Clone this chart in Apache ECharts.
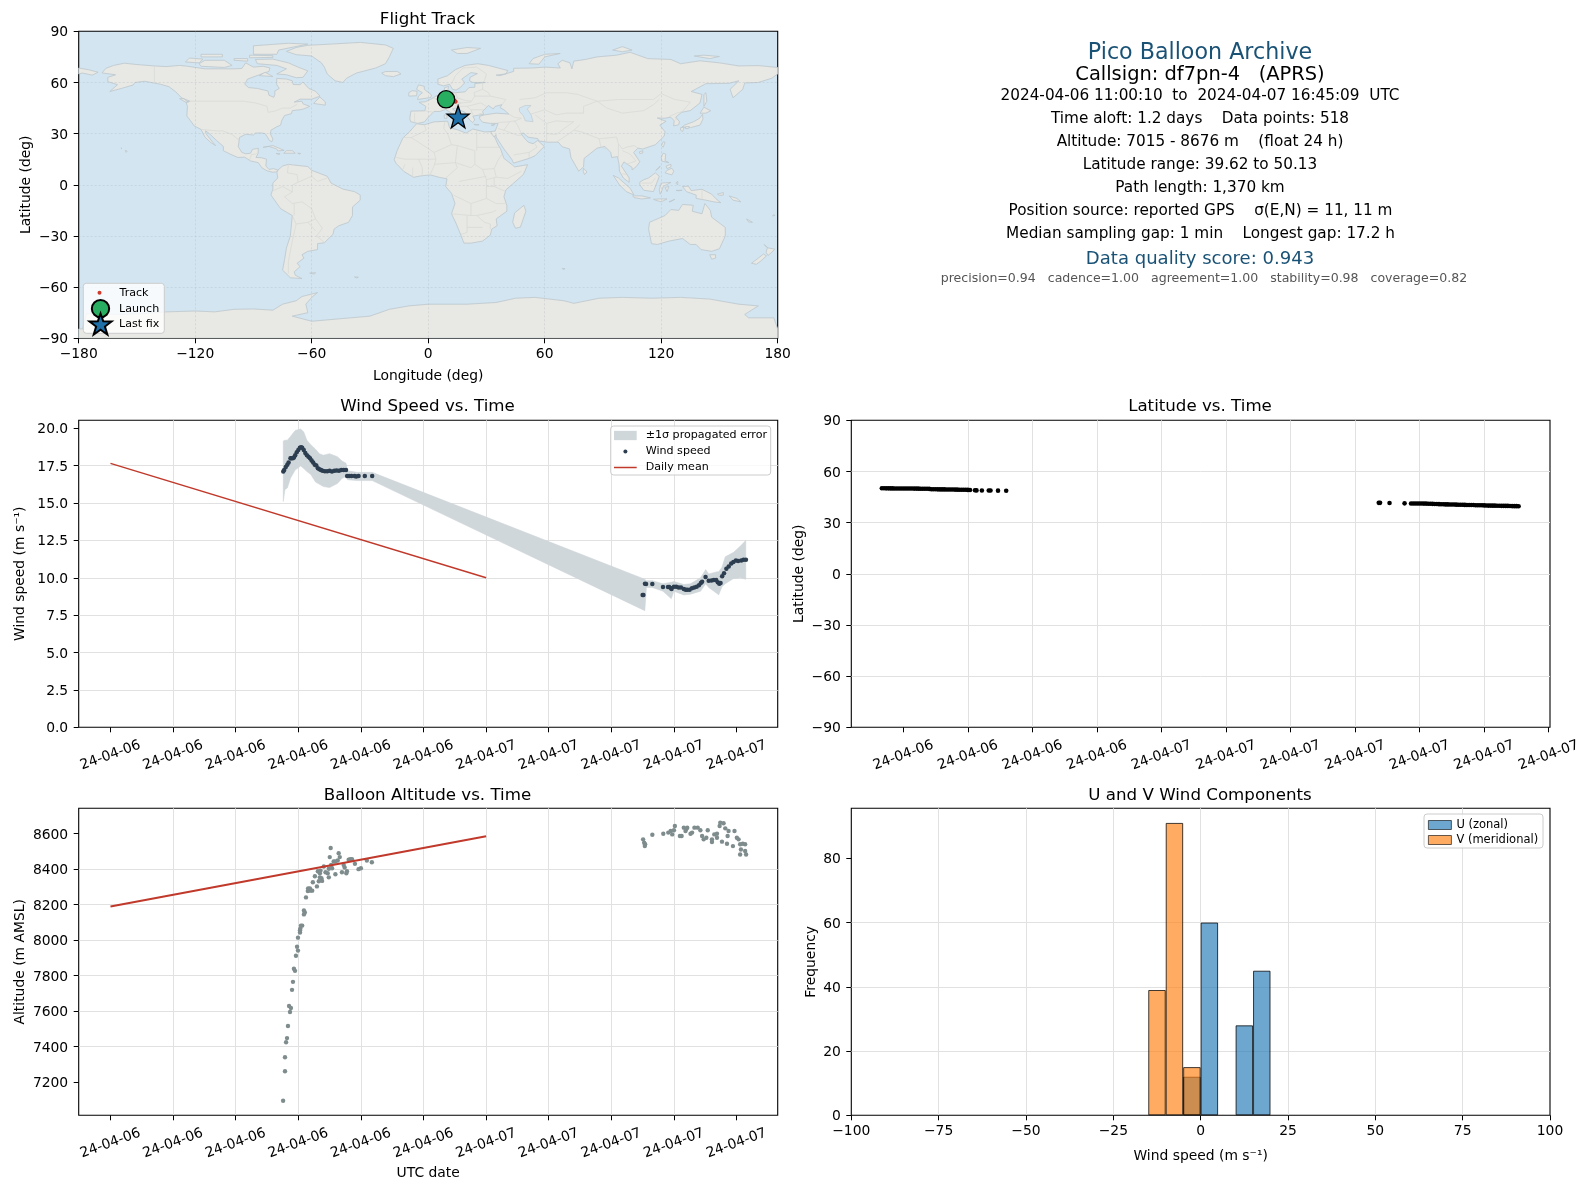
<!DOCTYPE html>
<html><head><meta charset="utf-8">
<style>html,body{margin:0;padding:0;background:#fff}#c{width:1589px;height:1189px}</style>
<script src="https://cdn.jsdelivr.net/npm/echarts@6/dist/echarts.min.js"></script>
</head><body><div id="c"></div>
<script>
// ---------- DATA ----------
const landShapes = [
 [[-168,65.6],[-166,68.3],[-162,70],[-156.5,71.3],[-150,70.5],[-141,69.7],[-135,69.3],[-128,70],[-124,69.5],[-115,68],[-108,68],[-100,68],[-96,68.2],[-94,71.5],[-90,69],[-85,69.5],[-81.5,68.5],[-82,66.5],[-87,64.5],[-93,62],[-94.5,59],[-92.5,57],[-88,56.5],[-82.5,55],[-82,52.5],[-79.5,51.3],[-79,53],[-79,55],[-76.7,56.5],[-78,58.7],[-78,62.4],[-73,62],[-70,61],[-69.5,58.8],[-66,58.7],[-64.5,60.3],[-61.5,56.5],[-58,54.8],[-55.7,52],[-60,50.2],[-66,50.2],[-69,48.5],[-65,49],[-64.5,47.5],[-61,46],[-64,44.5],[-66,44],[-70,43.5],[-70.5,41.7],[-74,40.6],[-75.5,37.5],[-76,35],[-78,34],[-81,32],[-81.3,30],[-80,26.8],[-80.5,25.2],[-81.8,26],[-82.8,28],[-84,30],[-86,30.4],[-89,30.3],[-90,29.2],[-94,29.6],[-97.2,27.8],[-97.5,25],[-97.8,22.3],[-96,19],[-94,18.2],[-91.5,18.5],[-90.5,20.8],[-87.5,21.4],[-87.6,18.5],[-88.7,16],[-86,15.9],[-83.3,15],[-83.6,11],[-82,9],[-79.7,9.5],[-77.4,8.6],[-78.2,7.5],[-80.2,7.4],[-83,8.2],[-85.7,10],[-87.5,13],[-91.5,14],[-94.5,16.2],[-98,16],[-102,18],[-105.5,20],[-105.5,22.5],[-109,26],[-112.7,30],[-114.7,31.7],[-114.5,30],[-111,25],[-109.5,23],[-112,24.8],[-115,28],[-117,32.5],[-120.5,34.5],[-122.5,37.7],[-124.3,40.3],[-124,46],[-124.7,48.4],[-122.7,49],[-127,51],[-130,54.5],[-133.5,57.5],[-138,59],[-146,60.7],[-151,60],[-152,58.5],[-158,56.5],[-164,54.7],[-160,58.7],[-165,60.5],[-165,63],[-161,64.5],[-168,65.6]],
 [[-73,78.2],[-68,80.5],[-62,81.8],[-50,82.5],[-35,83.5],[-22,82],[-18,80],[-20,75],[-22,71],[-27,68.5],[-37,65.5],[-42,62.5],[-44,60],[-48,61],[-52,65],[-53.5,69],[-55,71.5],[-60,75.5],[-68,76.3]],
 [[-80,73.7],[-72,71.5],[-67,69],[-62,66.8],[-64.5,63],[-68,62.8],[-73,64.5],[-78,65],[-73,68],[-78,70],[-88,71],[-89,73.5]],
 [[-117,69.5],[-105,68.8],[-101,70],[-105,73],[-115,73],[-118,71]],
 [[-90,76.5],[-78,76.5],[-77,79],[-62,82.5],[-72,83],[-90,81.5]],
 [[-92,74.5],[-80,74.7],[-80,75.7],[-92,76]],
 [[-125,72],[-118,71.5],[-116,73.7],[-123,74.3]],
 [[-117,75],[-106,75],[-106,76.5],[-117,76.5]],
 [[-100,73],[-93,72.5],[-93,74],[-100,74]],
 [[-59,47.7],[-53,46.7],[-53,48.6],[-55.8,51.5]],
 [[-87,64],[-80,63.5],[-84,66]],
 [[-128,50.5],[-125,48.5],[-123.5,48.5],[-126,50.5]],
 [[-77.4,8.6],[-75,11],[-72,12],[-70,11.7],[-62,10.7],[-60,8.5],[-52,5],[-50,1],[-44,-2.5],[-38,-4],[-35,-6],[-35,-9],[-39,-13],[-39,-18],[-41,-22],[-46,-24],[-48.5,-26],[-49,-29],[-53.5,-34],[-57,-34.5],[-57,-38],[-62,-39],[-65,-41],[-64,-43],[-67.5,-46],[-66,-48],[-69,-51],[-68.5,-53],[-65,-55],[-71,-54.5],[-75,-50],[-74,-44],[-73,-37],[-71,-30],[-70,-18],[-76,-14],[-81,-6],[-80,-2.5],[-80,1],[-77.5,4],[-77.9,7.2]],
 [[-6,35.8],[-2,35.2],[3,36.9],[10,37.3],[11,33.5],[15,32.3],[19.5,30.3],[23,32.7],[29,31],[32.5,31.2],[34.3,27.8],[36,23.5],[37.3,21],[39,15.5],[43.3,11.7],[44.5,10.5],[51.2,11.8],[49,6],[44,1],[40,-3],[39,-7],[40.5,-12],[40.5,-15.5],[35,-20],[35.5,-24],[32.7,-26],[32,-29.5],[28,-33],[22,-34.2],[18.4,-34.2],[17,-30],[14.5,-23],[12,-17],[13.8,-11],[12,-5],[9,-1],[9.7,3.5],[6,4.3],[1,5.8],[-4,5.2],[-7.5,4.4],[-12.5,7.8],[-16.5,12.5],[-17.5,14.7],[-16,20],[-13,27.5],[-9.7,31]],
 [[-9,37],[-9.5,38.7],[-8.9,43.2],[-1.7,43.4],[-1.2,46],[-4.7,48.4],[-1.5,48.7],[1.5,50.3],[4,52],[8,53.7],[8.5,57],[10.5,57.7],[10,54.8],[14,54],[19,54.5],[21,57],[24,57.2],[24,59.3],[29.5,60],[23,60],[21.3,61],[21.5,63],[25.3,65.2],[22,65.8],[17.3,62],[18.8,59.8],[16.5,57],[14.3,55.5],[12.5,56],[11,59],[8,58],[5,59],[5,62],[10,64],[14,67.5],[19,70],[25.5,71],[31,70],[41,67],[40,65],[35,64.3],[37,64],[44,66.5],[44,68.3],[54,68.5],[60,69],[68,68.5],[66.8,71],[69,73],[73,71.5],[74,68],[75,72.5],[81,73.5],[87,75],[97,76],[104,77.7],[113,74],[125,73.5],[130,71],[140,72.7],[150,71.5],[160,69.7],[170,69.9],[180,68.8],[180,65],[177,62.5],[170,60],[163,59.7],[162,56],[157,51],[155.5,56],[160,61],[155,59.5],[143,59.3],[135.5,54.7],[141,53],[140,48],[135,43.5],[130.5,42.5],[127.5,39.7],[129.4,37],[129,35.2],[126.4,34.5],[126.7,37.5],[125,39.6],[121.5,39],[118,39.2],[122.5,37.2],[119.3,35],[122,31],[121.5,28.5],[117,23.5],[110.5,21],[108,21.5],[105.8,19],[109,13.5],[107,10.5],[105,8.7],[105,10.2],[100.8,13.4],[99.5,11],[103.5,4],[103.5,1.4],[100.5,4],[98.5,8],[98.3,12],[97.5,16.5],[94.5,16],[94,19],[91,22.5],[87,21.5],[80.3,15.5],[80,10.5],[77.5,8],[73.5,16],[72.8,21],[69,22.3],[67,25],[61.5,25],[57,25.7],[56.4,27.1],[51.5,27.9],[49,30.3],[47.8,30],[50,26.7],[51.5,25],[54,24.1],[56.4,26],[59.8,22.5],[55,17],[52,15.5],[44,12.7],[43,15],[39,21],[35,28],[34.9,29.5],[34,28],[32.6,29.9],[32.3,31.2],[34.5,31.5],[36,36],[32,36],[28,36.7],[26.5,38.7],[26.5,40.2],[29,41],[35,42],[41.5,41.5],[39,44],[37,45.3],[38,47],[34.5,46],[33.5,44.5],[31,46.5],[28,43],[28.5,41.3],[26,40.8],[23,40.3],[24,38],[22.8,36.5],[21,38.5],[19.5,41],[19,42.5],[14,45],[12.5,44.5],[16,41.5],[18.4,40],[16,38],[15.8,40],[12,42],[9,44.2],[6,43],[3,43],[0,39.5],[-2,36.8],[-5.5,36]],
 [[-180,68.5],[-175,67.5],[-170,66],[-173,64.3],[-178,65.5],[-180,65]],
 [[-5.5,50],[1.3,51.2],[1.7,52.7],[-2,56],[-2,57.7],[-5,58.6],[-6,56],[-3,54],[-5,52]],
 [[-10,52],[-6,52.2],[-5.7,54.8],[-8.2,55.2],[-10,54]],
 [[-24,65.5],[-22,64],[-18,63.4],[-14,65],[-16,66.5],[-22,66.4]],
 [[12,79],[20,80.5],[27,80],[20,77],[15,77]],
 [[52,71],[57,70.7],[60,75],[68,77],[60,76.5],[54,74]],
 [[95,79],[100,78],[105,79],[100,81]],
 [[137,75.5],[145,74],[150,75.2],[142,76]],
 [[12.5,38],[15.5,38.2],[15,36.7]],[[8.3,39],[9.7,39],[9.6,41],[8.3,41]],[[23.5,35.5],[26.2,35.2],[24.5,35]],[[32.5,35],[34.5,35.6],[33.5,34.6]],
 [[130.8,34],[135,33.5],[140,35],[141.5,38.5],[141.3,41.4],[139.8,39],[136.7,37],[132,35]],
 [[140,42],[143,42],[145.5,43.4],[142,45.5]],[[130,33.5],[131.8,33.7],[131,31.2],[130,32]],[[132.5,34],[134.5,34.2],[134,33],[132.5,33]],
 [[142,46],[143.5,49],[143,54],[142,53]],
 [[120.2,23],[121,22],[122,25],[121,25.2]],[[108.7,19.3],[110.5,20],[110.5,18.7],[109,18.3]],
 [[120,16],[121,18.5],[122.3,18],[122,14],[124,13],[120.5,13.8]],[[122,7],[125.5,5.8],[126.5,8],[125.5,9.7],[123,8.5]],[[122.5,11],[125,12],[125,10.5],[123,9.5]],[[117.2,8.4],[119.5,11],[119,10]],
 [[109,1.5],[111,3],[113.5,4],[117,7],[119,5],[117.7,1],[116,-4],[111,-3.2],[109,0]],
 [[95.3,5.5],[98,4],[104,-2],[106,-6],[102,-4],[98.5,0]],
 [[105.3,-6.5],[110,-6.5],[114.5,-7.7],[110,-8.3],[106,-7.5]],
 [[119.5,-5.5],[120.5,-3],[121,-1],[125,1.4],[120,1],[119,-3]],[[123,-4],[122,-1.5],[124,-1]],
 [[116,-8.5],[119,-8.3],[123,-8.3],[120,-10],[117,-9]],[[124,-10],[127,-8.5],[125,-9.8]],[[127.5,1],[128.5,2],[128.5,0]],[[127.7,-3.3],[130.8,-3.2],[129,-3.5]],
 [[131,-1],[134,-0.8],[135.5,-3.4],[141,-2.6],[146,-5.5],[148,-8],[150.7,-10.5],[147,-10],[143,-9],[138,-8],[138,-6],[133,-4]],
 [[149,-5.5],[152,-4.5],[152,-6],[150,-6.2]],[[155,-6.5],[159,-8],[161,-10],[157,-9]],
 [[114,-22],[113.5,-26],[115,-34.5],[118,-35],[124,-33],[131,-31.5],[135,-35],[138,-35],[140.5,-38],[146,-39],[150,-37.5],[153,-30],[153,-25],[149.5,-22],[146,-19],[145.3,-15],[142.5,-11],[141,-17],[136,-15.5],[136.5,-12],[131,-11.5],[129,-15],[125,-14.5],[122,-18],[116,-21]],
 [[145,-41],[148,-41],[148,-43],[146,-43.6]],
 [[173,-35],[175,-37],[178.5,-37.7],[177,-39.5],[175,-41.5],[174,-39.5],[174.7,-37]],
 [[172.7,-40.6],[174.2,-41.7],[171,-45],[169,-46.6],[166.5,-46],[170,-43]],
 [[49.3,-12],[50.3,-15.5],[47.5,-24.8],[45,-25.5],[43.5,-22],[44.5,-16.5]],
 [[80,9.7],[81.8,7.5],[80.5,6],[79.8,8]],
 [[-85,22],[-80,23],[-74.2,20.2],[-77.5,19.9],[-78,21],[-82,22.5]],
 [[-74.4,18.5],[-68.5,18.5],[-70,20],[-73,20]],[[-78.3,18.4],[-76.3,18.2],[-77,17.8]],[[-67.2,18.5],[-65.7,18.4],[-66,18]],
 [[-61,-51.8],[-58,-51.5],[-58.5,-52.3]],[[-38,-54],[-36,-54.2],[-37,-54.6]],[[69,-49],[70.5,-49.2],[69.5,-49.7]],
 [[164,-20],[167,-22],[165,-21.8]],[[-156,20.2],[-155,19.7],[-155.6,19]],[[-158.2,21.6],[-157.7,21.4],[-158,21.2]],[[178,-17.5],[178.6,-18],[177.3,-18.2]],
 [[-180,-84.5],[-178,-84.5],[-176,-75.5],[-160,-76],[-146,-75.5],[-135,-74.5],[-120,-74],[-110,-74.5],[-100,-73],[-90,-72.8],[-80,-73.5],[-75,-70],[-68,-68],[-65,-65.5],[-57,-63.2],[-60,-66],[-63,-70],[-62,-75],[-70,-77],[-60,-80],[-40,-78],[-30,-77],[-20,-73],[-10,-71],[0,-70],[20,-70],[35,-69],[45,-66.5],[55,-66],[70,-68],[75,-69.5],[88,-66.5],[100,-66],[115,-66.5],[130,-66],[145,-67],[160,-70],[170,-71],[163,-76],[165,-78],[178,-78],[180,-84.5],[180,-90],[-180,-90]]
];
const waterShapes = [
 [[47,45],[50,46.5],[53,46.5],[51,44.5],[53,41],[54,37],[50,37.5],[49,40.5],[47,43]]
];
const borderLines = [
 [[-141,69.7],[-141,60.3]],
 [[-123,49],[-95,49],[-89,48],[-83,46],[-82.5,42.5],[-79,43.2],[-75,45],[-71,45],[-67.5,47.2]],
 [[-117,32.5],[-108,31.5],[-106,31.7],[-101,29.5],[-97.3,26]],
 [[-92,14.6],[-91,17.8],[-89,17.9],[-88.3,18.4]],
 [[-72,12],[-72.5,7],[-67.5,6],[-67,1.5],[-70,-0.2],[-70,-4.2],[-74,-7],[-70,-11],[-65,-10],[-60,-14],[-58,-20],[-54.5,-25.5],[-57.5,-30],[-53.5,-33.7]],
 [[-60,8.5],[-60,5],[-67,1.5]],[[-52,4],[-57,2],[-60,5]],
 [[-80,-3.5],[-75,-1],[-70,-4.2]],[[-70,-18],[-68,-23],[-70,-33],[-72,-45],[-72,-52]],[[-69,-11],[-69,-18]],[[-62,-22],[-58,-20]],[[-68,-23],[-62,-22],[-58,-27]],
 [[-8.7,27.7],[-13,27.7]],[[-2,35],[-1,32],[-8.7,27.7],[-5,25],[3,19],[12,23.5],[10,30],[8,33],[8.5,37]],[[3,19],[4,15],[-5,15],[-12,15],[-16.5,16]],[[12,23.5],[15,23],[24,20],[24,12],[28,9],[34,9.5],[36,14.5],[38,18]],[[25,32],[25,20]],[[25,22],[37,22]],[[15,23],[14,13],[15,10],[9,4]],[[4,15],[3,11],[1,6]],[[-5,15],[-3,10],[-3,5]],[[-8,10],[-8,4.5]],[[-12,12],[-13,9]],[[14,13],[3,12]],[[28,9],[30,3],[30,-1],[30,-8],[22,-11],[13,-6]],[[30,3],[35,4.5],[41,3.7],[48,8]],[[34,9.5],[35,4.5]],[[34,4],[34,-1],[40,-4]],[[30,-1],[34,-1]],[[30,-8],[35,-11],[40.5,-11]],[[22,-11],[22,-18],[12,-17]],[[22,-18],[25,-18],[33,-16],[35,-15]],[[20,-18],[20,-28],[17,-29]],[[25,-18],[29,-22],[32,-23],[32,-26]],[[20,-25],[28,-25]],[[16,2],[30,5]],[[14,13],[22,10],[24,12]],
 [[-1.7,43.4],[3,42.5]],[[-7,37],[-7,42]],[[2.5,51],[7,49],[8,47.5],[7,44]],[[7,53],[6.5,50],[8,49]],[[14,54],[15,51],[13,48.5],[10,47.5],[8,47.5]],[[13,48.5],[17,48],[22,48.5],[24,52],[23.5,54]],[[15,51],[19,49.5],[22,49]],[[14,46.5],[17,48]],[[13.7,46],[20,46],[22,44],[23,41]],[[20,46],[27,48],[30,46]],[[22,44],[28.5,44]],[[24,52],[32,52],[40,50],[38,47]],[[23.5,54],[28,56],[28,59.5]],[[32,52],[31,54],[28,56]],[[12,59],[14,64],[18,68.5],[25,69]],[[25,69],[30,65],[29,61],[28,60]],[[26,41.5],[28,42]],[[41.5,41.5],[44.5,39.5],[48,39]],[[36,36.5],[42,37],[44.5,37.5],[46,35],[48,30]],[[36,33],[39,32],[42,37]],[[39,32],[46,29],[48,29]],[[44,37],[48,39]],[[52,15.5],[52,19],[56,22],[55,24]],[[44,17.5],[52,19]],[[61,25],[61,30],[61,36],[66,37.5],[71,37],[75,37]],[[61,30],[66,29.5],[70,33],[75,37]],[[66,25],[70,28],[75,32],[78,35]],[[75,32],[79,31],[88,27],[97,28]],[[88,27],[89,22],[92,21]],[[97,28],[98,24],[100,21],[102,22],[106,23],[108,21.5]],[[98,24],[98,16]],[[100,20],[104,18],[107,14],[102,12]],[[100,6.5],[102,6]],
 [[47,50],[55,51],[61,54],[71,54],[77,53],[87,49]],[[53,41.5],[60,44],[66,41],[71,42],[80,42]],[[55,41],[61,36]],[[80,42],[80,46],[87,49]],[[87,49],[92,45],[100,42],[111,43.5],[116,47],[119,50]],[[87,49],[98,50],[107,50],[116,50],[120,53.5],[127,50],[135,48.5],[131,43]],[[124,40],[128,42],[131,43]],[[117,4],[115,1],[110,1]],[[141,-3],[141,-9]],[[127,39],[128,38]]
];
const launch = [9.2, 50.13];
const lastFix = [15.4, 39.9];
const trackLon = [9.2,10.4,11.2,12.0,12.8,13.4,13.9,14.1,14.9,15.1,15.3,15.4,15.4,15.4];
const trackLat = [50.13,50.05,50.0,49.9,49.7,49.4,49.0,48.7,41.6,41.2,40.8,40.4,40.0,39.62];

const infoLines = [
 ['Pico Balloon Archive', 53, 22.2, '#1a5276', 1200],
 ['Callsign: df7pn-4   (APRS)', 75, 19.44, '#000', 1200],
 ['2024-04-06 11:00:10  to  2024-04-07 16:45:09  UTC', 96, 15.28, '#000', 1200],
 ['Time aloft: 1.2 days    Data points: 518', 119, 15.28, '#000', 1200],
 ['Altitude: 7015 - 8676 m    (float 24 h)', 142, 15.28, '#000', 1200],
 ['Latitude range: 39.62 to 50.13', 165, 15.28, '#000', 1200],
 ['Path length: 1,370 km', 188, 15.28, '#000', 1200],
 ['Position source: reported GPS    σ(E,N) = 11, 11 m', 211, 15.28, '#000', 1200.5],
 ['Median sampling gap: 1 min    Longest gap: 17.2 h', 234, 15.28, '#000', 1200.5],
 ['Data quality score: 0.943', 259, 18.06, '#1a5276', 1200],
 ['precision=0.94   cadence=1.00   agreement=1.00   stability=0.98   coverage=0.82', 279, 12.55, '#555', 1204]
];

// time values: hours after 2024-04-06 00:00 UTC
const windHours = [11.04,11.1,11.2,11.3,11.38,11.5,11.55,11.65,11.72,11.8,11.9,12.0,12.1,12.18,12.25,12.35,12.45,12.55,12.65,12.75,12.85,12.95,13.05,13.15,13.25,13.35,13.45,13.55,13.7,13.85,14.0,14.15,14.3,14.45,14.6,14.75,14.9,15.05,15.12,15.25,15.4,15.6,15.7,15.85,16.25,16.72,
 34.0,34.05,34.15,34.22,34.62,35.3,35.62,35.7,35.82,35.85,36.0,36.15,36.3,36.45,36.63,36.75,36.85,37.0,37.15,37.3,37.45,37.6,37.72,37.8,38.02,38.22,38.4,38.55,38.7,38.8,38.9,38.98,39.08,39.2,39.35,39.5,39.66,39.8,39.96,40.1,40.3,40.45,40.6];
const windSpeed = [17.1,17.2,17.4,17.55,17.7,18.0,18.0,18.0,18.05,18.2,18.4,18.55,18.7,18.73,18.7,18.55,18.35,18.2,18.1,18.0,17.85,17.7,17.55,17.5,17.33,17.25,17.2,17.15,17.13,17.13,17.15,17.1,17.15,17.18,17.15,17.2,17.2,17.2,16.8,16.8,16.8,16.8,16.78,16.8,16.8,16.8,
 8.85,8.85,9.6,9.58,9.58,9.38,9.38,9.38,9.3,9.25,9.4,9.4,9.35,9.35,9.25,9.2,9.2,9.2,9.3,9.35,9.4,9.5,9.65,9.73,10.05,9.8,9.82,9.85,9.85,9.7,9.6,9.65,10.1,10.3,10.6,10.75,10.95,11.05,11.15,11.12,11.15,11.2,11.2];
const bandHours = [11.04,11.15,11.3,11.5,11.8,12.15,12.35,12.55,12.8,13.1,13.35,13.6,14.0,14.5,14.8,15.05,15.15,15.75,16.72,34.14,34.24,34.62,35.3,35.83,36.0,36.63,37.06,37.7,38.03,38.22,38.75,38.86,39.07,39.28,39.81,40.23,40.59];
const bandLow = [15.1,15.9,16.0,16.65,17.2,17.48,17.3,17.1,16.9,16.4,16.25,16.1,16.03,16.3,16.65,16.77,16.55,16.5,16.5,7.8,9.35,9.35,9.1,8.6,9.1,8.85,8.9,9.1,9.6,9.35,8.95,8.85,9.4,9.6,9.95,10.0,9.9];
const bandHigh = [19.15,19.2,19.2,19.45,19.85,19.95,19.75,19.2,18.9,18.6,18.3,18.2,18.3,18.1,17.8,17.66,17.15,17.05,17.05,9.9,9.8,9.8,9.6,9.7,9.75,9.55,9.6,10.0,10.55,10.25,10.4,10.4,10.7,11.4,11.7,12.1,12.5];
const meanHours = [0,24];
const meanWind = [17.65,10.0];
const meanAlt = [8190,8585];

const latHours = [11.0,11.1,11.2,11.3,11.4,11.5,11.6,11.7,11.8,11.9,12.0,12.1,12.2,12.3,12.4,12.5,12.6,12.7,12.8,12.9,13.0,13.1,13.2,13.3,13.4,13.5,13.6,13.7,13.8,13.9,14.0,14.1,14.2,14.3,14.4,14.5,14.6,14.7,14.8,14.9,15.0,15.1,15.33,15.4,15.65,15.97,16.05,16.4,16.78,
 34.1,34.16,34.6,35.3,35.6,35.7,35.8,35.9,36.0,36.1,36.2,36.3,36.4,36.5,36.6,36.7,36.8,36.9,37.0,37.1,37.2,37.3,37.4,37.5,37.6,37.7,37.8,37.9,38.0,38.1,38.2,38.3,38.4,38.5,38.6,38.7,38.8,38.9,39.0,39.1,39.2,39.3,39.4,39.5,39.6,39.7,39.8,39.9,40.0,40.1,40.2,40.3,40.4,40.5,40.6];
const latDeg = [50.13,50.12,50.1,50.1,50.08,50.08,50.05,50.05,50.04,50.02,50.0,50.0,50.02,50.0,49.98,49.95,49.95,49.92,49.9,49.9,49.88,49.85,49.82,49.6,49.55,49.55,49.52,49.5,49.5,49.48,49.45,49.42,49.4,49.4,49.38,49.35,49.3,49.3,49.28,49.25,49.2,49.15,48.95,48.9,48.85,48.8,48.8,48.75,48.7,
 41.6,41.6,41.5,41.3,41.25,41.25,41.2,41.2,41.2,41.2,41.15,41.15,41.1,41.1,41.0,40.95,40.9,40.85,40.8,40.75,40.7,40.7,40.65,40.6,40.6,40.55,40.5,40.45,40.45,40.4,40.35,40.35,40.3,40.3,40.2,40.2,40.15,40.15,40.1,40.05,40.0,40.0,39.95,39.95,39.9,39.9,39.85,39.85,39.8,39.8,39.75,39.7,39.65,39.65,39.62];

const altHours = [11.03,11.15,11.15,11.22,11.28,11.34,11.47,11.41,11.53,11.6,11.66,11.79,11.72,11.85,11.98,11.92,11.98,12.11,12.11,12.13,12.17,12.25,12.36,12.42,12.36,12.49,12.61,12.68,12.63,12.74,12.78,12.89,13.19,12.93,13.06,13.31,13.52,13.48,13.38,13.95,13.25,13.42,13.38,13.74,13.88,13.63,13.95,14.16,14.1,14.37,14.79,15.07,15.11,14.9,14.96,14.26,14.37,14.52,14.65,14.01,14.07,14.58,15.22,15.43,15.32,15.62,15.85,16.0,16.38,16.7,
 34.03,34.1,34.16,34.14,34.62,35.32,35.64,35.79,35.89,36.06,36.0,36.38,36.49,36.63,36.78,36.85,36.74,37.06,37.16,37.31,37.52,37.69,37.8,37.9,38.07,38.16,38.43,38.43,38.58,38.75,38.75,38.92,38.96,39.17,39.28,39.49,39.43,39.87,39.07,39.39,39.77,40.02,40.13,40.23,40.4,40.55,40.28,40.55,40.61,40.23];
const altMetres = [7095,7261,7340,7425,7448,7516,7595,7629,7618,7720,7765,7827,7839,7912,7941,7963,8014,8043,8056,8065,8082,8082,8145,8156,8167,8241,8277,8283,8292,8292,8279,8279,8303,8326,8360,8332,8334,8349,8354,8354,8388,8392,8377,8383,8377,8415,8402,8405,8424,8371,8383,8377,8388,8424,8409,8443,8443,8449,8468,8468,8519,8490,8453,8456,8456,8430,8400,8405,8449,8439,
 8568,8549,8540,8530,8594,8600,8606,8615,8596,8643,8619,8587,8587,8634,8625,8634,8615,8600,8606,8634,8634,8619,8587,8568,8577,8619,8568,8553,8596,8600,8577,8643,8662,8659,8630,8615,8587,8615,8555,8543,8530,8577,8568,8540,8543,8540,8511,8502,8483,8483];

const uCentres = [-2.5,2.5,12.5,17.5];
const uCounts = [12,60,28,45];
const vCentres = [-12.5,-7.5,-2.5];
const vCounts = [39,91,15];

const windTickHours = [0,4,8,12,16,20,24,28,32,36,40];
const latTickHours = [12,15,18,21,24,27,30,33,36,39,42];
const windYTicks = [0,2.5,5,7.5,10,12.5,15,17.5,20];
const altYTicks = [7200,7400,7600,7800,8000,8200,8400,8600];
const latYTicks = [-90,-60,-30,0,30,60,90];
const histYTicks = [0,20,40,60,80];

// ---------- LAYOUT / HELPERS ----------
const FONT = 'DejaVu Sans';
const T0 = Date.UTC(2024,3,6);
const ms = h => T0 + h*3600e3;
const zip = (a,b) => a.map((v,i)=>[v,b[i]]);
const tzip = (a,b) => a.map((v,i)=>[ms(v),b[i]]);
const minus = v => String(v).replace('-','\u2212');
const G = {
 map:{left:78.7,top:31.3,width:699,height:307},
 wind:{left:78.7,top:420.3,width:699,height:307},
 lat:{left:851.3,top:420.3,width:698.7,height:307},
 alt:{left:78.7,top:808.3,width:699,height:307},
 hist:{left:851.3,top:808.3,width:698.7,height:307}
};
const STAR = 'path://M0,-10 L2.35,-3.24 L9.51,-3.09 L3.8,1.24 L5.88,8.09 L0,4 L-5.88,8.09 L-3.8,1.24 L-9.51,-3.09 L-2.35,-3.24 Z';
const gridLine = {show:true,showMinLine:false,showMaxLine:false,lineStyle:{color:'#e1e1e1',width:1}};
function grid(g,bg){return {left:g.left,top:g.top,width:g.width,height:g.height,show:true,backgroundColor:bg||'#fff',borderColor:'#000',borderWidth:1.1,containLabel:false};}
function baseAxis(o){
 return Object.assign({axisLine:{show:false,onZero:false},axisTick:{show:true,length:5,lineStyle:{color:'#000',width:1}},
  axisLabel:{color:'#000',fontFamily:FONT,fontSize:13.89,margin:9,hideOverlap:false,showMinLabel:true,showMaxLabel:true},
  splitLine:gridLine,nameTextStyle:{color:'#000',fontFamily:FONT,fontSize:13.89},nameLocation:'middle',minorTick:{show:false}},o);
}
function timeAxis(i,min,max,ticks,name){
 const vals=ticks.map(ms);
 const a=baseAxis({type:'value',scale:true,gridIndex:i,min:ms(min),max:ms(max),name:name||'',nameGap:51});
 a.axisTick.customValues=vals;
 a.axisLabel=Object.assign({},a.axisLabel,{customValues:vals,rotate:20,align:'center',verticalAlign:'middle',margin:28,
   formatter:v=>new Date(v).toISOString().slice(2,10)});
 return a;
}
function valAxis(i,min,max,ticks,name,gap,fmt,margin,nudge){
 const a=baseAxis({type:'value',scale:true,gridIndex:i,min,max,name,nameGap:gap});
 a.axisTick.customValues=ticks;
 const f=fmt||minus;
 a.axisLabel=Object.assign({},a.axisLabel,{customValues:ticks,margin:margin||10.5,
   formatter:nudge?(v=>'{t|'+f(v)+'}'):f,
   rich:nudge?{t:{fontFamily:FONT,fontSize:13.89,color:'#000',padding:[3,0,0,0]}}:undefined});
 return a;
}
const mapGridLine={show:true,showMinLine:false,showMaxLine:false,lineStyle:{color:'#9fb0ba',width:.7,type:[2,2],opacity:.4}};
const xAxes=[
 Object.assign(valAxis(0,-180,180,[-180,-120,-60,0,60,120,180],'Longitude (deg)',31,null,9.5,false),{splitLine:mapGridLine,z:3}),
 timeAxis(1,-2.03,42.63,windTickHours),
 timeAxis(2,9.58,42.06,latTickHours),
 timeAxis(3,-2.03,42.63,windTickHours,'UTC date'),
 valAxis(4,-100,100,[-100,-75,-50,-25,0,25,50,75,100],'Wind speed (m s\u207B\u00B9)',34,null,9.5,false)
];
const yAxes=[
 Object.assign(valAxis(0,-90,90,latYTicks,'Latitude (deg)',45,null,10.5,true),{splitLine:mapGridLine,z:3}),
 valAxis(1,0,20.53,windYTicks,'Wind speed (m s\u207B\u00B9)',51,v=>v.toFixed(1),10.5,true),
 valAxis(2,-90,90,latYTicks,'Latitude (deg)',45,null,10.5,true),
 valAxis(3,7013,8743,altYTicks,'Altitude (m AMSL)',51,null,10.5,true),
 valAxis(4,0,95.55,histYTicks,'Frequency',33,null,10.5,true)
];
function polyShapes(shapes,style,closed){
 return {type:'custom',xAxisIndex:0,yAxisIndex:0,coordinateSystem:'cartesian2d',silent:true,clip:true,z:1,
  data:shapes.map((_,i)=>[0,0,i]),encode:{x:0,y:1},
  renderItem:(p,api)=>{
   const pts=shapes[api.value(2)].map(c=>api.coord(c));
   return {type:closed?'polygon':'polyline',shape:{points:pts},style:Object.assign({},style)};
  }};
}
const bandSeries={name:'\u00B11\u03C3 propagated error',type:'custom',xAxisIndex:1,yAxisIndex:1,coordinateSystem:'cartesian2d',silent:true,z:1,
 itemStyle:{color:'#d0d7da'},clip:true,
 data:bandHours.map((h,i)=>[ms(h),bandLow[i],bandHigh[i]]),encode:{x:0,y:[1,2]},
 renderItem:(p,api)=>{
  if(p.dataIndex!==0) return null;
  const up=[],lo=[];
  bandHours.forEach((h,i)=>{up.push(api.coord([ms(h),bandHigh[i]]));lo.unshift(api.coord([ms(h),bandLow[i]]));});
  return {type:'polygon',shape:{points:up.concat(lo)},style:{fill:'#d0d7da',stroke:'#ccd3d6',lineWidth:.5}};
 }};
const silentS=o=>Object.assign({silent:true,animation:false},o);

const series=[
 polyShapes(landShapes,{fill:'#e8e8e4',stroke:'#bcc7cc',lineWidth:.8},true),
 polyShapes(waterShapes,{fill:'#d2e5f1',stroke:'#bcc7cc',lineWidth:.6},true),
 polyShapes(borderLines,{fill:'none',stroke:'#d4d6d4',lineWidth:.6},false),
 silentS({name:'Track',type:'scatter',xAxisIndex:0,yAxisIndex:0,z:5,symbolSize:4,itemStyle:{color:'#d13a2a',opacity:1},data:zip(trackLon,trackLat)}),
 silentS({name:'Launch',type:'scatter',xAxisIndex:0,yAxisIndex:0,z:6,symbolSize:17.3,itemStyle:{color:'#27ae60',borderColor:'#000',borderWidth:1.3,opacity:1},data:[launch]}),
 silentS({name:'Last fix',type:'scatter',xAxisIndex:0,yAxisIndex:0,z:7,symbol:STAR,symbolSize:22,itemStyle:{color:'#1f6fa8',borderColor:'#000',borderWidth:1.3,opacity:1},data:[lastFix]}),
 bandSeries,
 silentS({name:'Wind speed',type:'scatter',xAxisIndex:1,yAxisIndex:1,z:4,symbolSize:4.5,itemStyle:{color:'#2c3e50',opacity:1},data:tzip(windHours,windSpeed)}),
 silentS({name:'Daily mean',type:'line',xAxisIndex:1,yAxisIndex:1,z:3,symbol:'none',color:'#c0392b',lineStyle:{color:'#c0392b',width:1.5},data:tzip(meanHours,meanWind)}),
 silentS({name:'Latitude',type:'scatter',xAxisIndex:2,yAxisIndex:2,symbolSize:4.6,itemStyle:{color:'#000',opacity:1},data:tzip(latHours,latDeg)}),
 silentS({name:'Altitude',type:'scatter',xAxisIndex:3,yAxisIndex:3,z:3,symbolSize:4.4,itemStyle:{color:'#7f8c8d',opacity:1},data:tzip(altHours,altMetres)}),
 silentS({name:'Altitude daily mean',type:'line',xAxisIndex:3,yAxisIndex:3,z:4,symbol:'none',lineStyle:{color:'#c0392b',width:2},data:tzip(meanHours,meanAlt)}),
 silentS({name:'U (zonal)',type:'bar',xAxisIndex:4,yAxisIndex:4,barWidth:17.47,barGap:'-100%',itemStyle:{color:'rgba(31,119,180,0.65)',borderColor:'rgba(0,0,0,0.75)',borderWidth:1},data:zip(uCentres,uCounts)}),
 silentS({name:'V (meridional)',type:'bar',xAxisIndex:4,yAxisIndex:4,barWidth:17.47,barGap:'-100%',itemStyle:{color:'rgba(255,127,14,0.65)',borderColor:'rgba(0,0,0,0.75)',borderWidth:1},data:zip(vCentres,vCounts)})
];
function legendItem(name,left,top,w,h,icon,itemStyle,fs,pad){
 const d={name};if(icon)d.icon=icon;
 const o={data:[d],left,top,itemWidth:w,itemHeight:h,selectedMode:false,z:20,padding:0,
  textStyle:{fontFamily:FONT,fontSize:fs||11.1,color:'#000',padding:[0,0,0,pad||0]}};
 if(itemStyle) o.itemStyle=itemStyle;
 return o;
}
const legends=[
 legendItem('Track',97.5,287.3,30,4,'circle'),
 legendItem('Launch',90.85,299,27,17.3,'circle'),
 legendItem('Last fix',88.5,312.5,27,21,STAR),
 legendItem('\u00B11\u03C3 propagated error',614,430,22.7,9.3,'rect',{color:'#d0d7da'},11.1,4),
 legendItem('Wind speed',623.4,446,30.6,4,'circle'),
 legendItem('Daily mean',614,462,22.7,1.5,'rect',{color:'#c0392b'},11.1,4),
 legendItem('U (zonal)',1428,819,23,9,'rect',{borderWidth:.8},11.5),
 legendItem('V (meridional)',1428,834,23,9,'rect',{borderWidth:.8},11.5)
];
const titleDefs=[
 ['Flight Track',427.5,17.2],['Wind Speed vs. Time',427.5,404.4],['Latitude vs. Time',1200,404.4],
 ['Balloon Altitude vs. Time',427.5,793.5],['U and V Wind Components',1200,793.5]
];
const titles=titleDefs.map(t=>({text:t[0],left:t[1],top:t[2]-6.5,textAlign:'center',textStyle:{fontFamily:FONT,fontSize:16.67,fontWeight:'normal',color:'#000'},padding:0}));
const legendBox=(x,y,w,h)=>({type:'rect',z:15,silent:true,shape:{x,y,width:w,height:h,r:3},style:{fill:'rgba(255,255,255,0.8)',stroke:'#cccccc',lineWidth:1}});
const graphics=[
 legendBox(83.3,283.3,81,50),legendBox(610.7,426,160,49),legendBox(1424,814,119,34)
].concat(infoLines.map(l=>({type:'text',silent:true,style:{text:l[0],x:l[4],y:l[1],align:'center',verticalAlign:'middle',fontFamily:FONT,fontSize:l[2],fill:l[3]}})));

const chart=echarts.init(document.getElementById('c'),null,{renderer:'canvas',width:1589,height:1189});
chart.setOption({
 animation:false,backgroundColor:'#fff',textStyle:{fontFamily:FONT},
 title:titles,
 grid:[grid(G.map,'#d2e5f1'),grid(G.wind),grid(G.lat),grid(G.alt),grid(G.hist)],
 xAxis:xAxes,yAxis:yAxes,legend:legends,series,graphic:{elements:graphics}
});
</script></body></html>
